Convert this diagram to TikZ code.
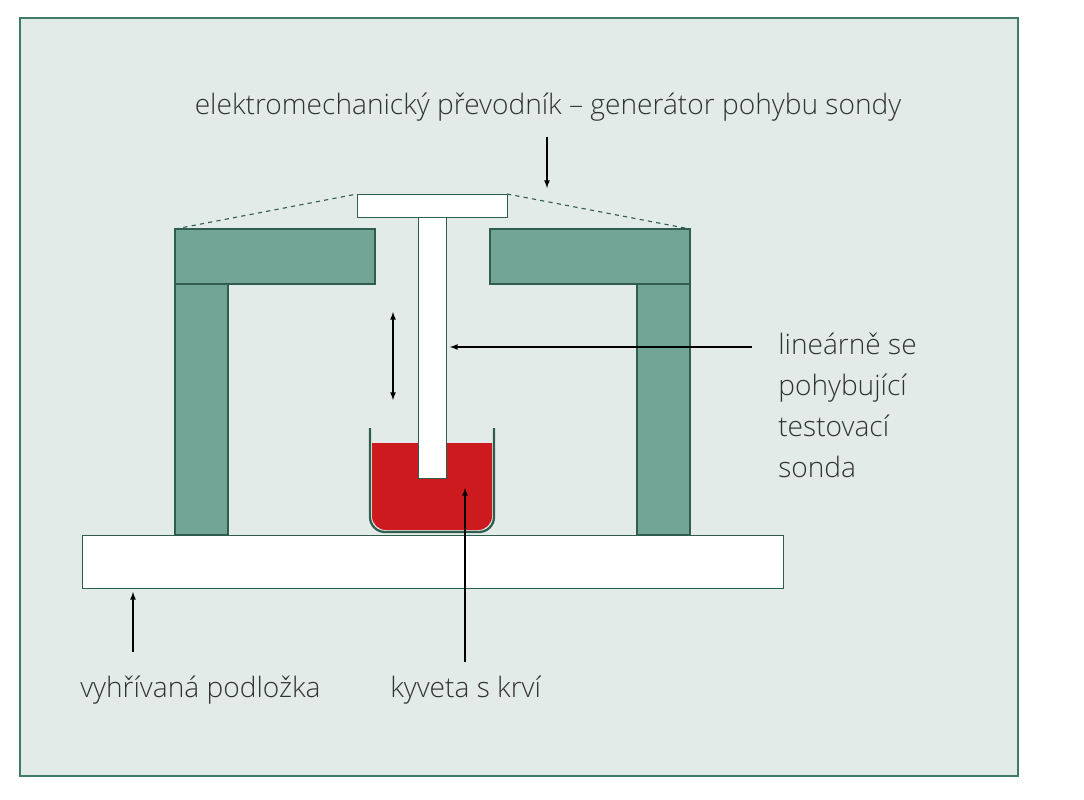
\documentclass[tikz,border=0pt]{standalone}
\usepackage{fontspec}
\setmainfont{Open Sans}[UprightFont=* Light]
\definecolor{bgcol}{HTML}{E3EBE8}
\definecolor{frame}{HTML}{3E7B68}
\definecolor{stand}{HTML}{72A596}
\definecolor{standedge}{HTML}{2F5E50}
\definecolor{blood}{HTML}{CC1A1E}
\tikzset{
  part/.style={fill=stand, draw=standedge, line width=0.8pt},
  white part/.style={fill=white, draw=standedge, line width=0.6pt},
  pointer/.style={-latex, line width=0.9pt},
  label/.style={font=\fontsize{20}{29}\selectfont, text=black!80, inner sep=0pt}
}
\begin{document}
\begin{tikzpicture}[x=0.025cm, y=-0.025cm]
\useasboundingbox (0,0) rectangle (1084,800);
\draw[fill=bgcol, draw=frame, line width=0.8pt] (20,18) rectangle (1018,776);

% stand
\draw[part] (175,229) rectangle (375,284);
\draw[part] (175,284) rectangle (228,535);
\draw[part] (490,229) rectangle (690,284);
\draw[part] (637,284) rectangle (690,535);

% base plate
\draw[white part] (82,535) rectangle (783,588);

% cuvette
\fill[blood] (372,443) -- (492,443) -- (492,516) arc[start angle=0, end angle=90, radius=14] -- (386,530) arc[start angle=90, end angle=180, radius=14] -- cycle;
\draw[standedge, line width=1.6pt] (370,428) -- (370,517) arc[start angle=180, end angle=90, radius=15] -- (479,532) arc[start angle=90, end angle=0, radius=15] -- (494,428);

% probe and top bar
\draw[white part] (418,217) rectangle (446,478);
\draw[white part] (357,194) rectangle (507,217);
\draw[dashed, standedge, line width=0.8pt] (175,229) -- (357,194);
\draw[dashed, standedge, line width=0.8pt] (507,194) -- (690,229);

% labels
\node[label] (top) at (548,107) {elektromechanický převodník – generátor pohybu sondy};
\node[label, anchor=north west, align=left] (probe) at (778,333) {lineárně se\\pohybující\\testovací\\sonda};
\node[label, anchor=west] (plate) at (80,690) {vyhřívaná podložka};
\node[label, anchor=west] (cuv) at (390,690) {kyveta s krví};

% pointers
\coordinate (c1) at (547,137); \coordinate (c2) at (547,188);
\draw[pointer] (c1) -- (c2);
\coordinate (m1) at (393,312); \coordinate (m2) at (393,400);
\draw[latex-latex, line width=0.9pt] (m1) -- (m2);
\coordinate (p1) at (752,347); \coordinate (p2) at (450,347);
\draw[pointer] (p1) -- (p2);
\coordinate (k1) at (465,662); \coordinate (k2) at (465,488);
\draw[pointer] (k1) -- (k2);
\coordinate (v1) at (133,652); \coordinate (v2) at (133,592);
\draw[pointer] (v1) -- (v2);
\end{tikzpicture}
\end{document}
